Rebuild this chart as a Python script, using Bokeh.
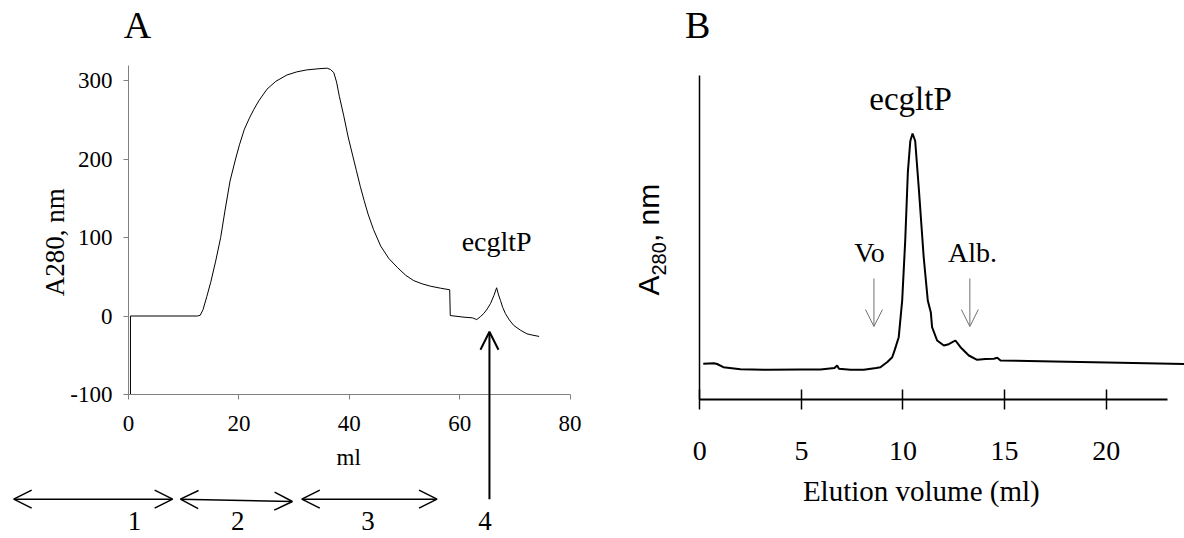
import math
from bokeh.plotting import figure
from bokeh.models import Range1d, FixedTicker, Label, Arrow, OpenHead
from bokeh.layouts import row
from bokeh.embed import file_html
from bokeh.resources import INLINE

SERIF = "Liberation Serif"
SANS = "Liberation Sans"

# ---------------- Panel A data (ml, A280) ----------------
a_ml = [0.36, 0.36, 12.5, 13.0, 13.5, 14.2, 14.9, 15.8, 16.7, 17.5, 18.4, 19.4, 20.1, 21.0,
        21.9, 22.7, 23.6, 25.1, 26.7, 28.7, 30.5, 32.3, 34.5, 36.0, 36.6, 37.2, 37.7, 38.2,
        39.0, 39.8, 40.6, 41.3, 42.0, 42.7, 43.4, 44.4, 45.7, 47.2, 48.7, 50.2, 51.7, 53.2,
        54.7, 56.5, 58.2, 58.3, 60.8, 62.3, 63.1, 63.8, 64.4, 65.0, 65.6, 66.2, 66.7, 67.0,
        67.4, 67.8, 68.3, 69.0, 69.8, 71.0, 72.2, 73.3, 74.4]
a_abs = [-100, 0, 0, 1, 8, 25, 43, 70, 100, 135, 172, 200, 218, 238,
         252, 263, 274, 289, 299, 307, 311, 313.5, 315, 315.7, 314, 310, 298, 280,
         255, 228, 205, 185, 165, 147, 130, 110, 89, 73, 62, 52, 45, 41,
         38, 35.5, 33.4, 0.6, -1.5, -2.3, -4.5, -0.6, 3.5, 9, 16, 26, 36, 28,
         19.7, 11, 3, -5, -12, -18, -22.7, -24.5, -26]
a_xticks = [0, 20, 40, 60, 80]
a_yticks = [-100, 0, 100, 200, 300]
a_ytick_labels = ["-100", "0", "100", "200", "300"]

# chromatography phases (ml) shown below panel A
phase_names = ["1", "2", "3", "4"]
phase_start = [-20.8, 9.4, 31.4]
phase_end = [8.0, 29.7, 55.9]
phase_label_ml = [1.1, 19.8, 43.4, 64.6]
peak_arrow_ml = 65.4

# ---------------- Panel B data (ml, relative A280) ----------------
b_ml = [0.17, 0.69, 0.85, 1.16, 2.0, 3.36, 4.96, 5.94, 6.63, 6.76, 6.85, 7.42, 8.07, 8.68,
        8.89, 9.23, 9.47, 9.59, 9.79, 9.96, 10.11, 10.24, 10.36, 10.47, 10.60, 10.78, 11.02,
        11.22, 11.37, 11.43, 11.68, 12.01, 12.25, 12.34, 12.58, 12.83, 13.24, 13.65, 14.06,
        14.47, 14.64, 14.80, 17.42, 20.70, 23.87]
b_abs = [0.36, 0.366, 0.358, 0.326, 0.306, 0.30, 0.303, 0.303, 0.318, 0.343, 0.31, 0.301,
         0.30, 0.319, 0.326, 0.378, 0.426, 0.497, 0.626, 0.993, 1.594, 2.28, 2.588, 2.663,
         2.588, 2.108, 1.423, 0.993, 0.874, 0.726, 0.593, 0.543, 0.556, 0.566, 0.593, 0.526,
         0.443, 0.40, 0.408, 0.41, 0.42, 0.393, 0.383, 0.37, 0.358]
b_xticks = [0, 5, 10, 15, 20]
marker_names = ["Vo", "Alb."]
marker_ml = [8.57, 13.29]
marker_label_ml = [8.35, 13.42]


def clean(p):
    p.xgrid.visible = False
    p.ygrid.visible = False
    p.outline_line_color = None
    p.background_fill_color = "white"
    p.border_fill_color = "white"


def label(p, x, y, text, font=SERIF, size="28px", angle=0.0, align="center"):
    p.add_layout(Label(x=x, y=y, text=text, text_font=font, text_font_size=size,
                       text_color="black", angle=angle, text_align=align,
                       text_baseline="alphabetic"))


H = 538
# ================= Panel A =================
# frame covers the whole canvas; axes are placed at fixed data locations
pA = figure(width=600, height=H, x_range=Range1d(-23.19, 85.52), y_range=Range1d(-283.4, 401.9),
            output_backend="svg", toolbar_location=None, min_border=0,
            min_border_left=0, min_border_right=0, min_border_top=0, min_border_bottom=0)
clean(pA)
pA.line(a_ml, a_abs, line_color="black", line_width=1)

for ax in (pA.xaxis[0], pA.yaxis[0]):
    ax.axis_line_color = "#808080"
    ax.major_tick_line_color = "#808080"
    ax.minor_tick_line_color = None
    ax.major_tick_in = 0
    ax.major_tick_out = 5
    ax.major_label_text_font = SERIF
    ax.major_label_text_font_size = "23px"
    ax.major_label_text_color = "black"
pA.xaxis.ticker = FixedTicker(ticks=a_xticks)
pA.yaxis.ticker = FixedTicker(ticks=a_yticks)
pA.yaxis.major_label_overrides = {t: s for t, s in zip(a_yticks, a_ytick_labels)}
pA.xaxis.fixed_location = -100
pA.yaxis.fixed_location = 0
pA.xaxis.bounds = (0, 80)
pA.yaxis.bounds = (-100, 319)
pA.xaxis.major_label_standoff = 16
pA.yaxis.major_label_standoff = 11

label(pA, 39.9, -180, "ml", size="23px")
label(pA, 1.63, 371, "A", size="38px")
label(pA, -13.4, 94, "A280, nm", size="27px", angle=math.pi / 2)
label(pA, 66.7, 95.5, "ecgltP", size="28px")

ARROW_Y = -233.3
for i in range(3):
    slope = -3.0 if i == 1 else 0.0
    pA.add_layout(Arrow(x_start=phase_start[i], y_start=ARROW_Y,
                        x_end=phase_end[i], y_end=ARROW_Y + slope,
                        line_color="black", line_width=1.5,
                        start=OpenHead(size=18, line_width=1.5, line_color="black"),
                        end=OpenHead(size=18, line_width=1.5, line_color="black")))
pA.add_layout(Arrow(x_start=peak_arrow_ml, y_start=ARROW_Y, x_end=peak_arrow_ml, y_end=-20.1,
                    line_color="black", line_width=2,
                    end=OpenHead(size=18, line_width=2, line_color="black")))
for name, xm in zip(phase_names, phase_label_ml):
    label(pA, xm, -261.5, name, size="27px")

# ================= Panel B =================
pB = figure(width=584, height=H, x_range=Range1d(-4.887, 23.854), y_range=Range1d(-1.387, 3.993),
            output_backend="svg", toolbar_location=None, min_border=0,
            min_border_left=0, min_border_right=0, min_border_top=0, min_border_bottom=0)
clean(pB)
pB.line(b_ml, b_abs, line_color="black", line_width=2)

xa = pB.xaxis[0]
xa.ticker = FixedTicker(ticks=b_xticks)
xa.fixed_location = 0
xa.bounds = (0, 23)
xa.axis_line_color = "black"
xa.axis_line_width = 2
xa.major_tick_line_color = "black"
xa.major_tick_line_width = 1.5
xa.major_tick_in = 10
xa.major_tick_out = 10
xa.minor_tick_line_color = None
xa.major_label_text_font = SERIF
xa.major_label_text_font_size = "28px"
xa.major_label_text_color = "black"
xa.major_label_standoff = 32

ya = pB.yaxis[0]
ya.ticker = FixedTicker(ticks=[])
ya.fixed_location = 0
ya.bounds = (0, 3.243)
ya.axis_line_color = "black"
ya.axis_line_width = 1.5
ya.major_tick_line_color = None
ya.minor_tick_line_color = None

label(pB, 10.9, -0.91, "Elution volume (ml)", size="29px")
label(pB, -0.11, 3.753, "B", size="38px")
label(pB, -2.525, 1.043, "A", font=SANS, size="30px", angle=math.pi / 2, align="left")
label(pB, -2.03, 1.243, "280", font=SANS, size="20px", angle=math.pi / 2, align="left")
label(pB, -2.525, 1.577, ", nm", font=SANS, size="30px", angle=math.pi / 2, align="left")
label(pB, 10.37, 3.013, "ecgltP", size="33px")
for name, xm, lx in zip(marker_names, marker_ml, marker_label_ml):
    label(pB, lx, 1.47, name, size="28px")
    pB.add_layout(Arrow(x_start=xm, y_start=1.213, x_end=xm, y_end=0.733,
                        line_color="#707070", line_width=1,
                        end=OpenHead(size=17, line_width=1, line_color="#707070")))

layout = row(pA, pB)
open("out.html", "w").write(file_html(layout, INLINE))
